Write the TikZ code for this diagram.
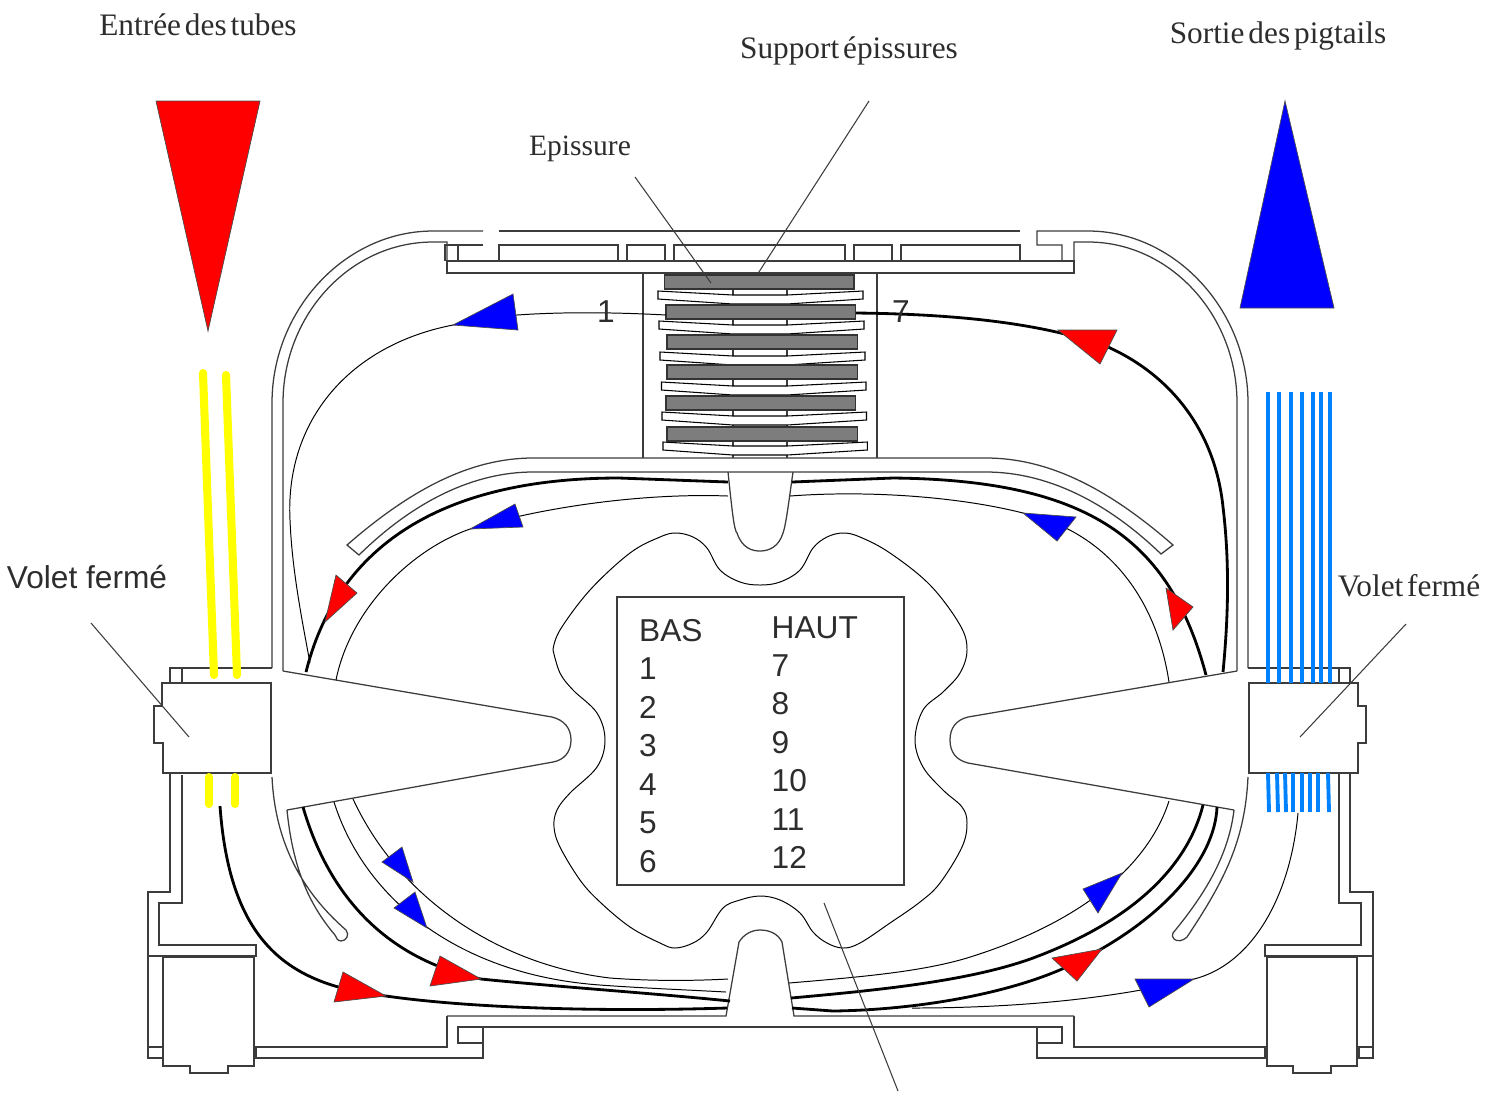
\documentclass[tikz,border=0pt]{standalone}
\usepackage{fontspec}
\newfontfamily\serifface[WordSpace=0.5]{Liberation Serif}
\newfontfamily\sansface{Liberation Sans}
\definecolor{wallgray}{RGB}{60,60,60}
\definecolor{textgray}{RGB}{45,45,45}
\definecolor{spliceray}{RGB}{125,125,125}
\definecolor{pigblue}{RGB}{0,130,255}
\definecolor{tubeyellow}{RGB}{255,255,0}
\tikzset{
  wall/.style     = {draw=wallgray, line width=0.36pt, line join=miter},
  thinwire/.style = {draw=black, line width=0.28pt},
  wire/.style     = {draw=black, line width=0.8pt},
  leader/.style   = {draw=wallgray, line width=0.3pt},
  redtri/.style   = {draw=black!70, line width=0.2pt, fill=red},
  bluetri/.style  = {draw=black!70, line width=0.2pt, fill=blue},
  splice/.style   = {draw=black!80, line width=0.35pt, fill=spliceray},
  plate/.style    = {draw=black, line width=0.3pt, fill=white},
  tube/.style     = {draw=tubeyellow, line width=2.3pt, line cap=round},
  pigtail/.style  = {draw=pigblue, line width=1.1pt},
  serlabel/.style = {font=\serifface\fontsize{8.9}{11}\selectfont, text=textgray, inner sep=0pt},
  sanslabel/.style= {font=\sansface\fontsize{9}{11}\selectfont, text=textgray, inner sep=0pt},
}
\begin{document}
\begin{tikzpicture}[x=0.01cm,y=-0.01cm]
  \useasboundingbox (0,0) rectangle (1497,1093);

  % labels
  \node[serlabel] (entree) at (198,25) {Entrée des tubes};
  \node[serlabel] (support) at (849,51) {Support épissures};
  \node[serlabel] (sortie) at (1278,36) {Sortie des pigtails};
  \node[serlabel, font=\serifface\fontsize{8.4}{11}\selectfont] (episs) at (580,149) {Epissure};
  \node[sanslabel] (voletg) at (87,577) {Volet fermé};
  \node[serlabel] (voletd) at (1409,586) {Volet fermé};

  % big flow triangles
  \draw[redtri] (156,101) -- (260,101) -- (208,331) -- cycle;
  \draw[bluetri] (1285,101) -- (1334,308) -- (1240,308) -- cycle;

  % top walls
  \draw[wall] (272,668) -- (272,403) .. controls (272,310) and (345,231) .. (433,231) -- (483,231);
  \draw[wall] (283,671) -- (283,403) .. controls (283,315) and (350,242) .. (433,242) -- (447,242) -- (447,261);
  \draw[wall] (1248,668) -- (1248,403) .. controls (1248,310) and (1175,231) .. (1088,231) -- (1037,231) -- (1037,245) -- (1062,245) -- (1062,261);
  \draw[wall] (1237,671) -- (1237,403) .. controls (1237,315) and (1170,242) .. (1088,242) -- (1074,242) -- (1074,261);
  \draw[wall] (499,231) -- (1020,231);
  \draw[wall] (445,261) -- (445,245) -- (483,245);
  \draw[wall] (458,245) -- (458,261);
  \draw[wall] (447,261) rectangle (1074,273);
  \foreach \xa/\xb in {499/618,627/665,674/845,854/892,901/1020}
    \draw[wall] (\xa,261) -- (\xa,245) -- (\xb,245) -- (\xb,261);

  % splice stack
  \draw[wall] (643,273) -- (643,458);
  \draw[wall] (877,273) -- (877,458);
  \draw[wall] (733,273) -- (733,458);
  \draw[wall] (787,273) -- (787,458);
  \foreach \xl/\xr/\yy in {658/863/0,659/864/30,660/865/61,661.5/866/91,662/866.5/121,663/867.3/151}
    \draw[plate] (\xl,291+\yy) -- (733,295+\yy) -- (787,295+\yy) -- (\xr,291+\yy) -- (\xr,299+\yy) -- (787,304+\yy) -- (733,304+\yy) -- (\xl,299+\yy) -- cycle;
  \foreach \xl/\xr/\yy in {664.4/854/275,666/855.5/305,667/857.6/335,667/857.6/365,666/855.5/396,667/857.6/427}
    \draw[splice] (\xl,\yy) rectangle (\xr,\yy+14);

  % upper band
  \draw[wall] (347,545) .. controls (410,490) and (470,458) .. (533,458) -- (986,458) .. controls (1050,458) and (1110,490) .. (1173,545) -- (1161,554)
    .. controls (1105,500) and (1045,472) .. (986,472) -- (533,472) .. controls (475,472) and (415,500) .. (359,555) -- cycle;

  % center wedges
  \draw[wall] (728,472) .. controls (732,510) and (734,530) .. (737,533) .. controls (742,548) and (752,551) .. (760,551) .. controls (770,551) and (779,546) .. (783,533) .. controls (786,525) and (789,500) .. (793,472);
  \draw[wall] (447,1016) -- (726,1016) -- (739,942) .. controls (744,934) and (752,930) .. (760,930) .. controls (770,930) and (778,934) .. (782,942) -- (794,1016) -- (1074,1016);

  % lower frame, left
  \draw[wall] (170,683) -- (170,668) -- (272,668);
  \draw[wall] (182,668) -- (182,683);
  \draw[wall] (170,774) -- (170,892) -- (148,892) -- (148,1058) -- (483,1058) -- (483,1027) -- (458,1027) -- (458,1043) -- (483,1043);
  \draw[wall] (182,775) -- (182,903) -- (159,903) -- (159,945) -- (256,945) -- (256,956) -- (148,956);
  \draw[wall] (148,1047) -- (163,1047);
  \draw[wall] (254,1047) -- (447,1047) -- (447,1016);
  \draw[wall] (256,1047) -- (256,1058);
  \draw[wall] (458,1027) -- (1037,1027);
  \draw[wall,fill=white] (163,957) -- (254,957) -- (254,1066) -- (228,1066) -- (228,1073) -- (190,1073) -- (190,1066) -- (163,1066) -- cycle;
  \draw[wall,fill=white] (162,683) -- (271,683) -- (271,773) -- (163,773) -- (163,743) -- (154,743) -- (154,706) -- (162,706) -- cycle;

  % lower frame, right
  \draw[wall] (1248,668) -- (1350,668) -- (1350,683);
  \draw[wall] (1339,668) -- (1339,683);
  \draw[wall] (1350,774) -- (1350,892) -- (1373,892) -- (1373,1058) -- (1037,1058) -- (1037,1027) -- (1062,1027) -- (1062,1043) -- (1037,1043);
  \draw[wall] (1339,774) -- (1339,903) -- (1361,903) -- (1361,945) -- (1265,945) -- (1265,956) -- (1373,956);
  \draw[wall] (1074,1016) -- (1074,1047) -- (1266,1047);
  \draw[wall] (1357,1047) -- (1373,1047);
  \draw[wall] (1359,1047) -- (1359,1058);
  \draw[wall] (1265,1047) -- (1265,1058);
  \draw[wall,fill=white] (1267,957) -- (1357,957) -- (1357,1066) -- (1331,1066) -- (1331,1073) -- (1293,1073) -- (1293,1066) -- (1267,1066) -- cycle;
  \draw[wall,fill=white] (1249,683) -- (1358,683) -- (1358,706) -- (1366,706) -- (1366,743) -- (1358,743) -- (1358,773) -- (1249,773) -- cycle;

  % side wedges and slots
  \draw[wall] (283,671) -- (552,717) .. controls (564,720) and (571,728) .. (571,740) .. controls (571,752) and (564,760) .. (553,762) -- (287,810);
  \draw[wall] (1237,671) -- (968,717) .. controls (956,720) and (950,728) .. (950,740) .. controls (950,752) and (956,760) .. (968,763) -- (1234,810);
  \draw[wall] (272,777) .. controls (275,840) and (300,890) .. (346,930) .. controls (350,935) and (346,941) .. (341,941) .. controls (338,941) and (336,938) .. (335,935) .. controls (305,900) and (292,860) .. (287,810);
  \draw[wall] (1248,777) .. controls (1245,840) and (1225,880) .. (1187,937) .. controls (1183,941) and (1177,942) .. (1174,939) .. controls (1172,937) and (1172,935) .. (1173,933) .. controls (1200,900) and (1228,860) .. (1234,810);

  % center outline
  \draw[thinwire] plot[smooth,tension=0.6] coordinates {(553,650) (560,673) (573,690) (597,713) (605,740) (597,767) (570,793) (557,810) (554,827) (560,847) (580,880) (600,902) (630,927) (660,943) (675,948) (693,943) (707,932) (723,908) (740,900) (760,896) (780,900) (800,913) (813,932) (827,943) (843,948) (860,943) (890,923) (920,902) (940,883) (962,847) (967,823) (962,807) (943,790) (923,767) (915,740) (923,710) (943,692) (960,673) (967,650) (960,625) (930,585) (890,553) (860,537) (843,533) (827,537) (813,548) (800,570) (780,582) (760,585) (740,582) (720,570) (707,548) (693,537) (676,533) (660,537) (630,553) (590,590) (560,630) (553,650)};

  % table
  \node[wall, fill=white, minimum width=2.87cm, minimum height=2.88cm] (table) at (760.5,741) {};
  \node[sanslabel, anchor=base west] (bas) at (638.5,641) {BAS};
  \node[sanslabel, anchor=base west] (haut) at (771,638) {HAUT};
  \foreach \txt/\yy in {1/679,2/718,3/756,4/795,5/833,6/872}
    \node[sanslabel, anchor=base west] (bas\txt) at (638.5,\yy) {\txt};
  \foreach \txt/\yy in {7/676,8/714,9/753,10/791,11/830,12/868}
    \node[sanslabel, anchor=base west] (haut\txt) at (771,\yy) {\txt};

  % fibres, thin ones
  \draw[thinwire] (666,315) .. controls (610,312) and (560,312) .. (517,315) -- (453,325) .. controls (350,345) and (285,420) .. (290,520) .. controls (292,570) and (302,620) .. (310,663);
  \draw[thinwire] (728,496) .. controls (650,493) and (550,505) .. (470,529) .. controls (410,550) and (350,610) .. (336,680);
  \draw[thinwire] (790,496) .. controls (870,490) and (960,497) .. (1023,513) .. controls (1100,530) and (1155,590) .. (1169,682);
  \draw[thinwire] (353,799) .. controls (400,900) and (500,965) .. (610,978) .. controls (650,981) and (690,981) .. (728,979);
  \draw[thinwire] (334,802) .. controls (365,900) and (460,975) .. (600,985) .. controls (640,988) and (690,990) .. (726,992);
  \draw[thinwire] (1169,801) .. controls (1150,860) and (1090,920) .. (967,958) .. controls (920,972) and (860,977) .. (789,983);
  \draw[thinwire] (1298,813) .. controls (1290,900) and (1250,965) .. (1194,979) .. controls (1140,992) and (1050,1008) .. (912,1008);

  % fibres, thick ones
  \draw[wire] (856,313) .. controls (950,314) and (1040,322) .. (1108,347) .. controls (1170,375) and (1215,430) .. (1223,507) .. controls (1230,565) and (1228,620) .. (1223,672);
  \draw[wire] (306,672) .. controls (335,555) and (430,478) .. (619,478) -- (728,482);
  \draw[wire] (792,482) -- (893,478) .. controls (1090,480) and (1170,540) .. (1206,675);
  \draw[wire] (220,806) .. controls (230,945) and (290,985) .. (386,996) .. controls (470,1008) and (600,1012) .. (727,1008);
  \draw[wire] (303,807) .. controls (330,900) and (390,960) .. (481,979) .. controls (560,987) and (650,993) .. (730,1001);
  \draw[wire] (1203,805) .. controls (1188,865) and (1135,920) .. (1033,958) .. controls (970,981) and (880,990) .. (791,998);
  \draw[wire] (1217,807) .. controls (1215,860) and (1160,925) .. (1062,969) .. controls (1000,996) and (910,1010) .. (833,1011) -- (792,1008);

  % flow triangles
  \draw[bluetri] (513,294) -- (518,330) -- (453,325) -- cycle;
  \draw[redtri] (1058,330) -- (1117,330) -- (1100,364) -- cycle;
  \draw[redtri] (336,575) -- (357,593) -- (325,622) -- cycle;
  \draw[redtri] (1166,588) -- (1193,607) -- (1173,630) -- cycle;
  \draw[bluetri] (515,504) -- (523,527) -- (470,529) -- cycle;
  \draw[bluetri] (1023,513) -- (1076,517) -- (1057,541) -- cycle;
  \draw[bluetri] (402,847) -- (382,862) -- (413,882) -- cycle;
  \draw[bluetri] (415,892) -- (394,908) -- (427,928) -- cycle;
  \draw[redtri] (440,956) -- (481,979) -- (430,986) -- cycle;
  \draw[redtri] (343,972) -- (386,996) -- (334,1002) -- cycle;
  \draw[bluetri] (1122,873) -- (1083,889) -- (1098,913) -- cycle;
  \draw[redtri] (1102,949) -- (1052,958) -- (1077,981) -- cycle;
  \draw[bluetri] (1194,979) -- (1135,979) -- (1149,1007) -- cycle;

  % tubes and pigtails
  \draw[tube] (203,373) -- (214,675);
  \draw[tube] (226,375) -- (237,675);
  \draw[tube] (209,777) -- (209,804);
  \draw[tube] (235,777) -- (235,804);
  \foreach \xx in {1268,1279,1291,1302,1313,1321,1330}
    \draw[pigtail] (\xx,392) -- (\xx,683);
  \foreach \xa/\xb in {1268/1269,1277/1278,1285/1286,1293/1293,1302/1302,1310/1310,1318/1318,1328/1329}
    \draw[pigtail] (\xa,773) -- (\xb,812);

  % numbers on the fibres
  \node[sanslabel] (num1) at (606,312) {1};
  \node[sanslabel] (num7) at (901,312) {7};

  % leader lines
  \coordinate (lead1) at (91,623);
  \coordinate (lead2) at (189,737);
  \coordinate (lead3) at (1406,624);
  \coordinate (lead4) at (1300,737);
  \coordinate (lead5) at (869,101);
  \coordinate (lead6) at (757,275);
  \coordinate (lead7) at (635,177);
  \coordinate (lead8) at (711,283);
  \coordinate (lead9) at (824,903);
  \coordinate (lead10) at (898,1091);
  \draw[leader] (lead1) -- (lead2);
  \draw[leader] (lead3) -- (lead4);
  \draw[leader] (lead5) -- (lead6);
  \draw[leader] (lead7) -- (lead8);
  \draw[leader] (lead9) -- (lead10);
\end{tikzpicture}
\end{document}
